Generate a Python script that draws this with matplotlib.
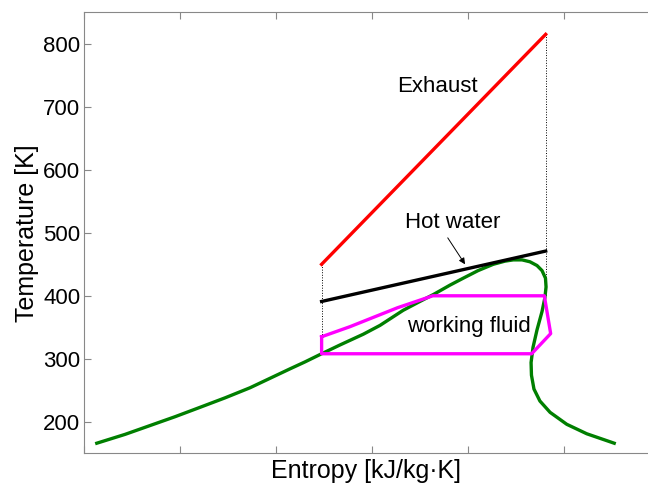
import matplotlib
matplotlib.use("Agg")
import matplotlib.pyplot as plt

plt.rcParams["font.family"] = ["Liberation Sans", "DejaVu Sans"]

# saturation dome of the working fluid (entropy, temperature)
dome_s = [1.064, 1.211, 1.341, 1.471, 1.602, 1.732, 1.862, 1.966, 2.070, 2.148,
          2.235, 2.331, 2.452, 2.539, 2.660, 2.747, 2.817, 2.904, 2.973, 3.050,
          3.129, 3.190, 3.233, 3.279, 3.320, 3.357, 3.383, 3.401, 3.404,
          3.398, 3.383, 3.357, 3.336, 3.326, 3.328, 3.341, 3.372, 3.425, 3.512,
          3.616, 3.759]
dome_T = [166, 180, 194, 208, 223, 238, 254, 269, 284, 295,
          308, 322, 339, 353, 377, 391, 402, 417, 428, 440,
          450, 455, 457, 457, 454, 448, 440, 428, 414,
          397, 375, 346, 318, 294, 274, 252, 233, 215, 196,
          181, 166]

# exhaust gas and hot water streams
exhaust_s = [2.235, 3.402]
exhaust_T = [450, 815]
water_s = [2.235, 3.402]
water_T = [391, 471]

# working fluid cycle
cycle_s = [2.235, 2.235, 3.329, 3.428, 3.395, 2.814, 2.630, 2.383, 2.235]
cycle_T = [335, 308, 308, 340, 400, 400, 381, 351, 335]

yticks = [200, 300, 400, 500, 600, 700, 800]
xticks = [1.0, 1.5, 2.0, 2.5, 3.0, 3.5]

fig = plt.figure(figsize=(6.48, 4.86), dpi=100)
ax = fig.add_axes([0.1304, 0.0673, 0.8696, 0.9074])

# dotted guides between the stream ends
ax.plot([exhaust_s[0], exhaust_s[0]], [exhaust_T[0], cycle_T[0]], color="black", lw=0.7, ls=":")
ax.plot([exhaust_s[1], exhaust_s[1]], [exhaust_T[1], cycle_T[4]], color="black", lw=0.7, ls=":")

ax.plot(dome_s, dome_T, color="#007f00", lw=2.4)
ax.plot(exhaust_s, exhaust_T, color="red", lw=2.4)
ax.plot(water_s, water_T, color="black", lw=2.4)
ax.plot(cycle_s, cycle_T, color="magenta", lw=2.4)

ax.text(2.84, 733, "Exhaust", fontsize=16, ha="center", va="center")
ax.text(3.0, 352, "working fluid", fontsize=16, ha="center", va="center")
ax.text(2.92, 516, "Hot water", fontsize=16, ha="center", va="center")
ax.annotate("", xy=(2.982, 450), xytext=(2.892, 492),
            arrowprops=dict(arrowstyle="-|>", color="black", lw=0.7,
                            mutation_scale=9, shrinkA=0, shrinkB=0))

ax.set_xlim(1.0, 3.935)
ax.set_ylim(150, 850)
ax.set_xticks(xticks)
ax.set_xticklabels([])
ax.set_yticks(yticks)
ax.tick_params(direction="in", length=5, color="#888888", labelsize=16, top=True, pad=3)
for sp in ax.spines.values():
    sp.set_color("#888888")
ax.spines["right"].set_visible(False)

ax.set_xlabel("Entropy [kJ/kg\u00b7K]", fontsize=18, labelpad=1)
ax.set_ylabel("Temperature [K]", fontsize=18, labelpad=3)

fig.savefig("out.png", dpi=100)
